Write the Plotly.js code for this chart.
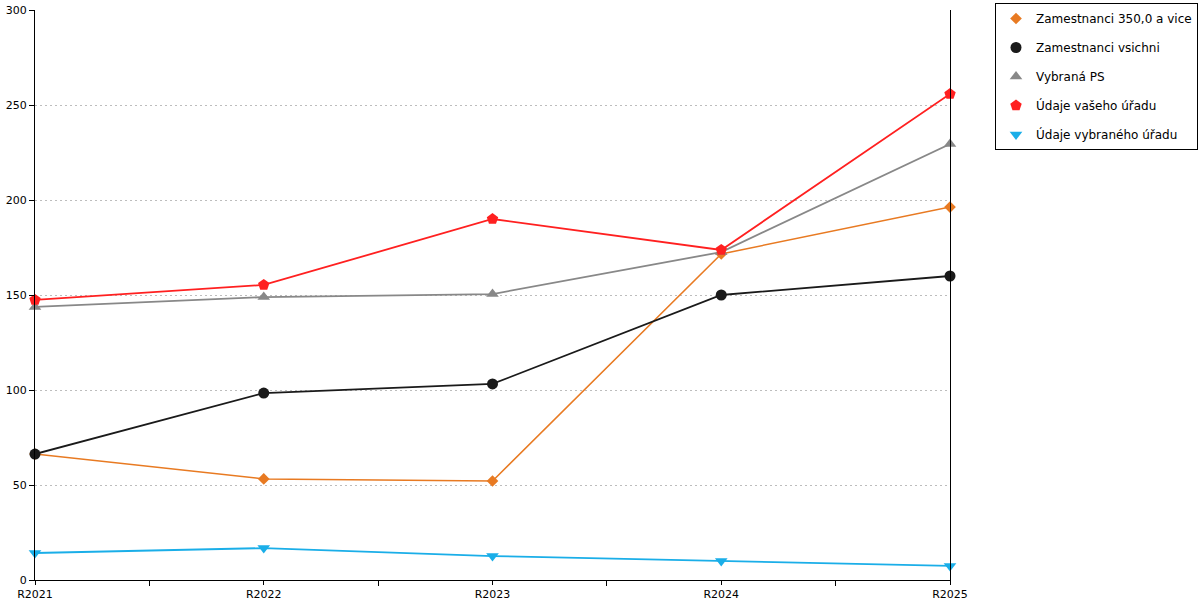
<!DOCTYPE html>
<html>
<head>
<meta charset="utf-8">
<script src="https://cdn.plot.ly/plotly-3.0.1.min.js"></script>
<style>body{margin:0;padding:0;background:#fff}#chart{width:1200px;height:600px}</style>
</head>
<body>
<div id="chart"></div>
<script>
var years = ["R2021", "R2022", "R2023", "R2024", "R2025"];
var zam350 = [66.3, 53.2, 52.1, 171.6, 196.3];
var zamVsichni = [66.3, 98.4, 103.2, 150, 160];
var vybranaPS = [143.7, 148.9, 150.5, 172.6, 229.5];
var udajeVaseho = [147.4, 155.3, 190, 173.7, 255.8];
var udajeVybraneho = [14.2, 16.8, 12.6, 10, 7.4];
var yTicks = [0, 50, 100, 150, 200, 250, 300];

var xIdx = years.map(function (c, i) { return i; });
var midTicks = years.slice(1).map(function (c, i) { return i + 0.5; });

var series = [
  { name: "Zamestnanci 350,0 a vice", vals: zam350, color: "#E87A22", symbol: "diamond", size: 9, width: 1.5 },
  { name: "Zamestnanci vsichni", vals: zamVsichni, color: "#1a1a1a", symbol: "circle", size: 11, width: 1.8 },
  { name: "Vybraná PS", vals: vybranaPS, color: "#888888", symbol: "triangle-up", size: 11, width: 1.8 },
  { name: "Údaje vašeho úřadu", vals: udajeVaseho, color: "#FF2020", symbol: "pentagon", size: 12, width: 1.8 },
  { name: "Údaje vybraného úřadu", vals: udajeVybraneho, color: "#1AAEE8", symbol: "triangle-down", size: 11, width: 1.8 }
];

var data = [];
series.forEach(function (s, i) {
  data.push({
    x: xIdx, y: s.vals, name: s.name, type: "scatter", mode: "lines",
    line: { color: s.color, width: s.width }, showlegend: false,
    legendgroup: "g" + i, hoverinfo: "skip"
  });
});
series.forEach(function (s, i) {
  data.push({
    x: xIdx, y: s.vals, name: s.name, type: "scatter", mode: "markers",
    marker: { color: s.color, symbol: s.symbol, size: s.size },
    cliponaxis: false, legendgroup: "g" + i
  });
});

var layout = {
  width: 1200, height: 600,
  margin: { l: 35, r: 250, t: 10, b: 20, autoexpand: false },
  paper_bgcolor: "#fff", plot_bgcolor: "#fff",
  font: { family: "DejaVu Sans", size: 11, color: "#000" },
  showlegend: true,
  legend: {
    x: (995 - 35) / 915, xanchor: "left", y: 1 + 7 / 570, yanchor: "top",
    bordercolor: "#000", borderwidth: 1, bgcolor: "#fff",
    font: { family: "DejaVu Sans", size: 12 },
    traceorder: "grouped", tracegroupgap: 10, itemwidth: 30
  },
  xaxis: {
    type: "linear", range: [0, 4],
    tickvals: xIdx, ticktext: years,
    ticks: "outside", ticklen: 4, tickcolor: "#000",
    minor: { tickvals: midTicks, ticks: "outside", ticklen: 5, tickcolor: "#000", showgrid: false },
    showline: true, linecolor: "#000", linewidth: 1,
    showgrid: false, zeroline: false,
    tickfont: { size: 11 }
  },
  yaxis: {
    range: [0, 300], tickvals: yTicks,
    ticks: "outside", ticklen: 5, tickcolor: "#000",
    showline: true, linecolor: "#000", linewidth: 1, mirror: true,
    showgrid: true, gridcolor: "#bdbdbd", griddash: "2px,3px", gridwidth: 1,
    zeroline: false, tickfont: { size: 11 }
  }
};

Plotly.newPlot("chart", data, layout, { displayModeBar: false, staticPlot: true });
</script>
</body>
</html>
